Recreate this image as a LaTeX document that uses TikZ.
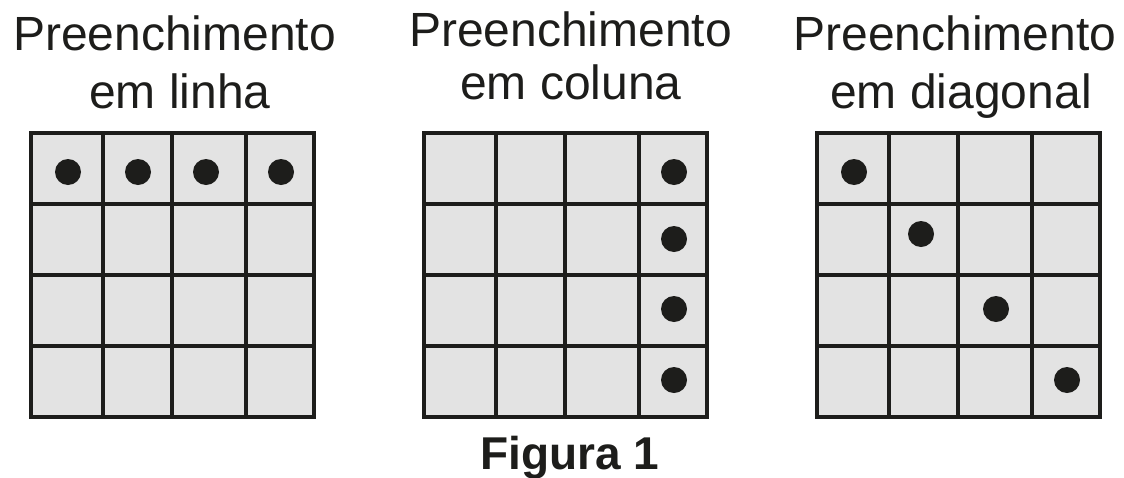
\documentclass[tikz,border=0pt]{standalone}
\usepackage{fontspec}
\setmainfont{Liberation Sans}
\definecolor{ink}{HTML}{1D1D1B}
\definecolor{cellgray}{HTML}{E3E3E3}

\begin{document}
\begin{tikzpicture}[x=1pt,y=-1pt,
  lbl/.style={anchor=base,inner sep=0pt,text=ink,font=\fontsize{48}{48}\selectfont},
  gridline/.style={draw=ink,line width=4.5pt}]
\useasboundingbox (0,0) rectangle (1124,477);
% titles
\node[lbl] (lin1) at (174.5,50.5) {Preenchimento};
\node[lbl] (lin2) at (180,108) {em linha};
\node[lbl] (col1) at (570.5,46.5) {Preenchimento};
\node[lbl] (col2) at (571,99.5) {em coluna};
\node[lbl] (dia1) at (955,50.5) {Preenchimento};
\node[lbl] (dia2) at (961,108) {em diagonal};
% the three grids
\foreach \gx in {31,424,817}{
  \fill[cellgray] (\gx,133) rectangle ++(283,284);
  \foreach \dx in {72,141,215}
    \draw[gridline] (\gx+\dx,133) -- ++(0,284);
  \foreach \dy in {71,142,213}
    \draw[gridline] (\gx,133+\dy) -- ++(283,0);
  \draw[gridline] (\gx,133) rectangle ++(283,284);
}
% dots
\foreach \px/\py in {68/172,138/172,206/172,281/172,
                     674/172,674/239,674/309,674/380,
                     854/172,921/234,996/309,1067/380}
  \fill[ink] (\px,\py) circle[radius=13];
\node[lbl,font=\bfseries\fontsize{46}{46}\selectfont] (fig) at (570,469) {Figura 1};
\end{tikzpicture}
\end{document}
